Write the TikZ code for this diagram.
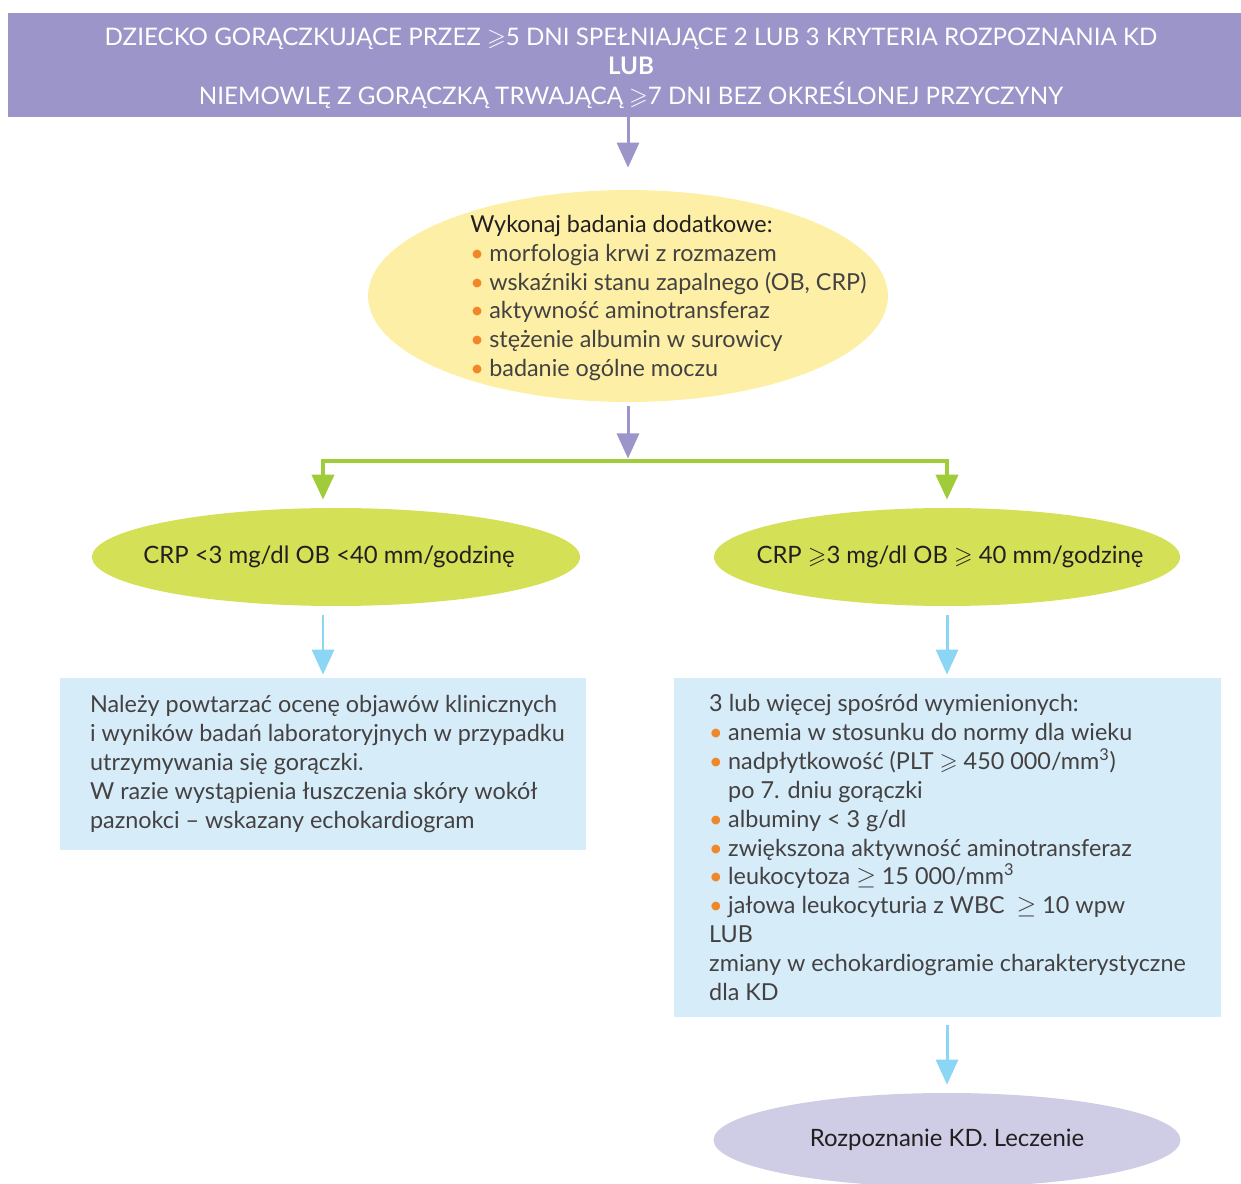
\documentclass[tikz,border=0pt]{standalone}
\usepackage{fontspec}
\usepackage{amssymb}
\setmainfont{Lato}
\usetikzlibrary{arrows.meta,positioning,shapes.geometric}
\definecolor{heather}{RGB}{155,149,201}
\definecolor{butter}{RGB}{253,240,166}
\definecolor{pistachio}{RGB}{212,225,87}
\definecolor{sprout}{RGB}{160,204,58}
\definecolor{sky}{RGB}{140,214,245}
\definecolor{mist}{RGB}{214,236,248}
\definecolor{lilac}{RGB}{207,204,229}
\definecolor{tangerine}{RGB}{240,135,40}
\definecolor{ink}{RGB}{35,31,32}
\tikzset{
  >={Triangle[length=5mm,width=4.4mm]},
  headbox/.style={fill=heather,minimum width=24.66cm,minimum height=2.08cm},
  headtext/.style={align=center,text=white,font=\fontsize{13.75}{16.7}\selectfont},
  oval/.style={ellipse,fill=#1,inner sep=0pt},
  oval/.default=pistachio,
  ovaltext/.style={text=ink,font=\fontsize{13.6}{15}\selectfont},
  listtext/.style={align=left,inner sep=0pt,text=ink!85,font=\fontsize{13.3}{16.4}\selectfont},
  infobox/.style={fill=mist,align=left,text=ink!85,font=\fontsize{13.3}{16.4}\selectfont},
  flow/.style={->,line width=1.7pt,draw=#1},
  flow/.default=heather,
  fork/.style={->,line width=2.3pt,draw=sprout},
}
\newcommand{\dotitem}{\makebox[10.8pt][l]{\textcolor{tangerine}{•}}}

\begin{document}
\begin{tikzpicture}
  \useasboundingbox (0,0) rectangle (24.82,-23.68);
  % starting condition
  \node[headbox] (fever) at (12.49,-1.3) {};
  \node[headtext] (fevertext) at (12.62,-1.36)
    {DZIECKO GORĄCZKUJĄCE PRZEZ $\geqslant$5 DNI SPEŁNIAJĄCE 2 LUB 3 KRYTERIA ROZPOZNANIA KD\\
     \textbf{LUB}\\
     NIEMOWLĘ Z GORĄCZKĄ TRWAJĄCĄ $\geqslant$7 DNI BEZ OKREŚLONEJ PRZYCZYNY};
  % additional tests
  \node[oval=butter,minimum width=10.4cm,minimum height=4.24cm] (exam) at (12.56,-5.92) {};
  \node[listtext,anchor=west] (examlist) at (9.4,-5.96)
    {{\color{ink}Wykonaj badania dodatkowe:}\\
     \dotitem morfologia krwi z rozmazem\\
     \dotitem wskaźniki stanu zapalnego (OB, CRP)\\
     \dotitem aktywność aminotransferaz\\
     \dotitem stężenie albumin w surowicy\\
     \dotitem badanie ogólne moczu};
  \coordinate (split) at (12.56,-9.22);
  % two branches
  \node[oval,minimum width=9.76cm,minimum height=1.96cm] (crplow) at (6.72,-11.14) {};
  \node[ovaltext] (crplowtext) at (6.58,-11.14) {CRP <3 mg/dl OB <40 mm/godzinę};
  \node[oval,minimum width=9.32cm,minimum height=1.96cm] (crphigh) at (18.94,-11.14) {};
  \node[ovaltext] (crphightext) at (19.0,-11.14) {CRP $\geqslant$3 mg/dl OB $\geqslant$ 40 mm/godzinę};
  \node[infobox,minimum width=10.52cm,minimum height=3.44cm] (repeat) at (6.46,-15.28)
    {\hspace*{5pt}Należy powtarzać ocenę objawów klinicznych\\
     \hspace*{5pt}i wyników badań laboratoryjnych w przypadku\\
     \hspace*{5pt}utrzymywania się gorączki.\\
     \hspace*{5pt}W razie wystąpienia łuszczenia skóry wokół\\
     \hspace*{5pt}paznokci – wskazany echokardiogram};
  \node[infobox,minimum width=10.94cm,minimum height=6.78cm] (criteria) at (18.95,-16.95)
    {3 lub więcej spośród wymienionych:\\
     \dotitem anemia w stosunku do normy dla wieku\\
     \dotitem nadpłytkowość (PLT $\geqslant$ 450 000/mm\textsuperscript{3})\\
     \hspace*{10.8pt}po 7. dniu gorączki\\
     \dotitem albuminy < 3 g/dl\\
     \dotitem zwiększona aktywność aminotransferaz\\
     \dotitem leukocytoza $\geq$ 15 000/mm\textsuperscript{3}\\
     \dotitem jałowa leukocyturia z WBC \ $\geq$ 10 wpw\\
     LUB\\
     zmiany w echokardiogramie charakterystyczne\\
     dla KD};
  \node[oval=lilac,minimum width=9.34cm,minimum height=1.88cm] (treat) at (18.94,-22.8) {};
  \node[ovaltext] (treattext) at (18.94,-22.8) {Rozpoznanie KD. Leczenie};
  % connectors
  \draw[flow,shorten >=0.44cm] (fever.south -| exam.north) -- (exam.north);
  \draw[flow,shorten <=0.08cm,shorten >=0.05cm] (exam.south) -- (split);
  \draw[fork,shorten >=0.16cm] (split) -| ([xshift=-0.26cm]crplow.north);
  \draw[fork,shorten >=0.16cm] (split) -| (crphigh.north);
  \draw[flow=sky,shorten <=0.18cm,shorten >=0.06cm] (repeat.north |- crplow.south) -- (repeat.north);
  \draw[flow=sky,shorten <=0.18cm,shorten >=0.06cm] (crphigh.south) -- (crphigh.south |- criteria.north);
  \draw[flow=sky,shorten <=0.16cm,shorten >=0.16cm] (criteria.south -| treat.north) -- (treat.north);
\end{tikzpicture}
\end{document}
